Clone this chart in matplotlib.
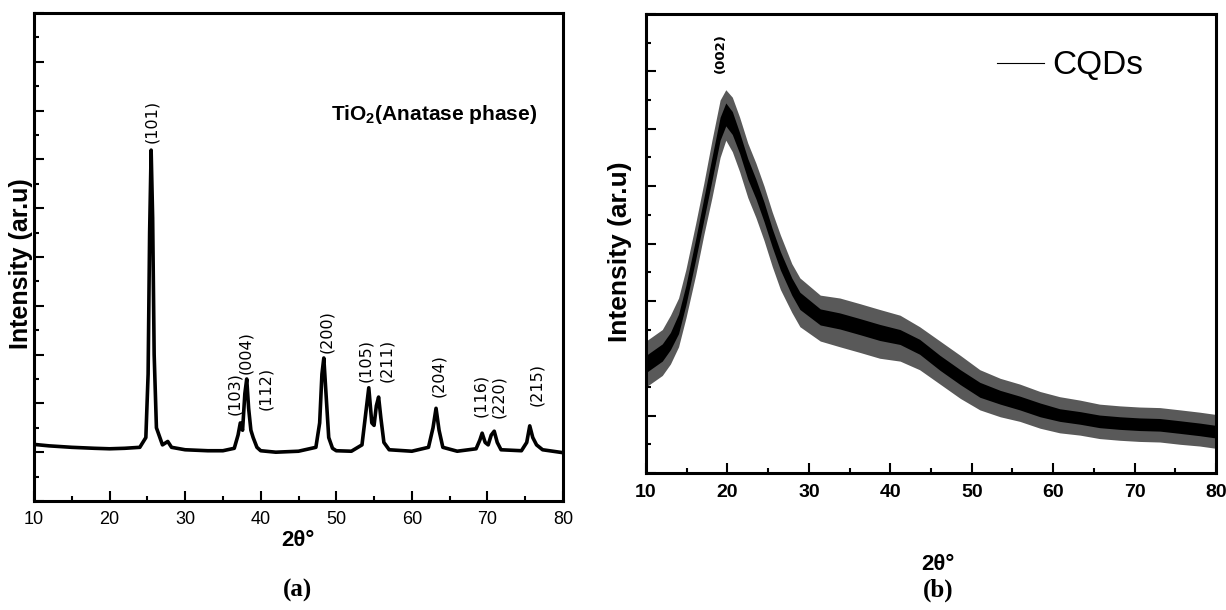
import matplotlib
matplotlib.use("Agg")
import matplotlib.pyplot as plt
from matplotlib.ticker import MultipleLocator, NullFormatter

# (a) TiO2 anatase XRD pattern
tio2_x = [10, 12, 15, 18, 20, 22, 24, 24.8, 25.1, 25.3, 25.5, 25.7, 25.9, 26.2, 27, 27.7, 28.2,
          30, 33, 35, 36.5, 37.0, 37.3, 37.6, 37.9, 38.15, 38.4, 38.7, 39.0, 39.5, 40, 42, 45,
          47.3, 47.8, 48.1, 48.35, 48.6, 49.0, 49.5, 50, 52, 53.4, 53.9, 54.3, 54.7, 55.0, 55.3,
          55.6, 55.9, 56.3, 57, 60, 62.2, 62.8, 63.2, 63.6, 64.1, 66, 68.5, 69.0, 69.3, 69.7,
          70.1, 70.5, 70.9, 71.3, 71.8, 74.5, 75.2, 75.6, 76.0, 76.5, 77.3, 80]
tio2_y = [1.16, 1.13, 1.1, 1.08, 1.07, 1.08, 1.1, 1.3, 2.6, 5.5, 7.19, 5.8, 3.0, 1.5, 1.15, 1.22, 1.1,
          1.05, 1.03, 1.03, 1.08, 1.35, 1.6, 1.45, 2.2, 2.5, 1.9, 1.45, 1.3, 1.1, 1.03, 1.0, 1.02,
          1.1, 1.6, 2.6, 2.93, 2.3, 1.3, 1.08, 1.03, 1.02, 1.15, 1.8, 2.32, 1.6, 1.55, 1.95,
          2.13, 1.7, 1.2, 1.05, 1.02, 1.1, 1.5, 1.9, 1.45, 1.1, 1.02, 1.07, 1.25, 1.39, 1.2,
          1.15, 1.35, 1.43, 1.2, 1.05, 1.03, 1.2, 1.54, 1.3, 1.15, 1.05, 0.99]
hkl_a = ["(101)", "(103)", "(004)", "(112)", "(200)", "(105)", "(211)", "(204)", "(116)", "(220)", "(215)"]
hkl_a_x = [25.6, 36.5, 38.0, 40.6, 48.7, 53.9, 56.6, 63.5, 69.1, 71.5, 76.5]
hkl_a_y = [7.34, 1.76, 2.6, 1.86, 3.03, 2.44, 2.44, 2.13, 1.72, 1.70, 1.95]

# (b) CQDs broad hump: centre of the noisy trace, its dense core and spike extent
cqd_x = [10, 11, 12, 13, 14, 14.9, 16.1, 17.1, 18.1, 19.1, 19.8, 20.6, 21.5, 22.5, 23.5, 24.5,
         25.5, 26.5, 27.9, 28.9, 31.4, 33.8, 36.3, 38.7, 41.2, 43.6, 46.1, 48.6, 51.0, 53.5,
         55.9, 58.4, 60.8, 63.3, 65.7, 68.2, 70.6, 73.1, 75.6, 78, 80]
cqd_mid = [1.9, 2.0, 2.1, 2.3, 2.6, 3.1, 3.9, 4.6, 5.3, 6.0, 6.25, 6.1, 5.75, 5.3, 4.95, 4.55,
           4.1, 3.7, 3.25, 3.0, 2.72, 2.65, 2.55, 2.45, 2.37, 2.2, 1.92, 1.67, 1.45, 1.32,
           1.22, 1.1, 1.01, 0.96, 0.9, 0.87, 0.85, 0.84, 0.8, 0.76, 0.72]
cqd_core_hi = [2.05, 2.15, 2.25, 2.45, 2.77, 3.27, 4.08, 4.79, 5.5, 6.2, 6.45, 6.3, 5.93, 5.48,
               5.12, 4.72, 4.26, 3.86, 3.4, 3.15, 2.86, 2.79, 2.69, 2.59, 2.5, 2.33, 2.05, 1.8,
               1.58, 1.44, 1.34, 1.22, 1.12, 1.07, 1.01, 0.98, 0.96, 0.95, 0.91, 0.87, 0.83]
cqd_core_lo = [1.75, 1.85, 1.95, 2.15, 2.43, 2.93, 3.72, 4.41, 5.1, 5.8, 6.05, 5.9, 5.57, 5.12,
               4.78, 4.38, 3.94, 3.54, 3.1, 2.85, 2.58, 2.51, 2.41, 2.31, 2.24, 2.07, 1.79, 1.54,
               1.32, 1.2, 1.1, 0.98, 0.9, 0.85, 0.79, 0.76, 0.74, 0.73, 0.69, 0.65, 0.61]
cqd_spike_hi = [2.3, 2.4, 2.5, 2.75, 3.05, 3.55, 4.35, 5.05, 5.8, 6.5, 6.68, 6.55, 6.2, 5.75, 5.4,
                5.0, 4.55, 4.15, 3.65, 3.4, 3.1, 3.05, 2.95, 2.85, 2.75, 2.55, 2.3, 2.05, 1.8,
                1.65, 1.55, 1.42, 1.33, 1.27, 1.2, 1.17, 1.15, 1.14, 1.1, 1.06, 1.02]
cqd_spike_lo = [1.5, 1.6, 1.7, 1.9, 2.2, 2.7, 3.45, 4.15, 4.8, 5.5, 5.8, 5.6, 5.25, 4.8, 4.45,
                4.05, 3.6, 3.2, 2.8, 2.55, 2.3, 2.2, 2.1, 2.0, 1.95, 1.8, 1.55, 1.3, 1.1, 0.98,
                0.9, 0.78, 0.7, 0.66, 0.6, 0.57, 0.55, 0.54, 0.5, 0.47, 0.43]

W, H = 1226, 610
plt.rcParams["font.family"] = ["Liberation Sans", "DejaVu Sans"]

fig = plt.figure(figsize=(W / 100, H / 100), dpi=100)


def box(l, t, r, b):
    return [l / W, 1 - b / H, (r - l) / W, (b - t) / H]


def style_axes(ax, ymax):
    ax.set_xlim(10, 80)
    ax.set_ylim(0, ymax)
    ax.xaxis.set_major_locator(MultipleLocator(10))
    ax.xaxis.set_minor_locator(MultipleLocator(5))
    ax.yaxis.set_major_locator(MultipleLocator(1))
    ax.yaxis.set_minor_locator(MultipleLocator(0.5))
    ax.yaxis.set_major_formatter(NullFormatter())
    for s in ax.spines.values():
        s.set_linewidth(2.2)
    ax.tick_params(which="both", direction="in", top=False, right=False, width=1.5)
    ax.tick_params(which="major", length=7)
    ax.tick_params(which="minor", length=3.5)


# ---- panel (a)
ax1 = fig.add_axes(box(34, 13, 563, 501))
style_axes(ax1, 10)
ax1.plot(tio2_x, tio2_y, color="black", lw=2.6)
for lab, x, y in zip(hkl_a, hkl_a_x, hkl_a_y):
    ax1.text(x, y, lab, rotation=90, ha="center", va="bottom", fontsize=11.5,
             family="DejaVu Sans")
ax1.text(0.951, 0.78, "TiO$_\\mathregular{2}$(Anatase phase)", transform=ax1.transAxes,
         ha="right", va="baseline", fontsize=15, fontweight="bold")
ax1.tick_params(axis="x", labelsize=13, pad=7)

fig.text(298 / W, 1 - 540 / H, "2θ°", ha="center", va="center", fontsize=16,
         fontweight="bold")
fig.text(21 / W, 1 - 264 / H, "Intensity (ar.u)", rotation=90, ha="center", va="center",
         fontsize=18, fontweight="bold")
fig.text(298 / W, 1 - 590 / H, "(a)", ha="center", va="center", fontsize=18,
         fontweight="bold", family="Liberation Serif")

# ---- panel (b)
ax2 = fig.add_axes(box(646, 14, 1216, 473))
style_axes(ax2, 8)
ax2.fill_between(cqd_x, cqd_spike_lo, cqd_spike_hi, color="0.35", lw=0)
ax2.fill_between(cqd_x, cqd_core_lo, cqd_core_hi, color="black", lw=0)
ax2.plot(cqd_x, cqd_mid, color="black", lw=0.8, label="CQDs")
ax2.text(19.1, 6.97, "(002)", rotation=90, ha="center", va="bottom", fontsize=9.5,
         fontweight="bold", family="DejaVu Sans")
ax2.legend(loc="upper right", bbox_to_anchor=(0.896, 0.95), frameon=False, fontsize=24,
           handlelength=1.4, handletextpad=0.25, borderaxespad=0)
ax2.tick_params(axis="x", labelsize=14, pad=8)
for t in ax2.get_xticklabels():
    t.set_fontweight("bold")

fig.text(938 / W, 1 - 565 / H, "2θ°", ha="center", va="center", fontsize=16,
         fontweight="bold")
fig.text(620 / W, 1 - 252 / H, "Intensity (ar.u)", rotation=90, ha="center", va="center",
         fontsize=19, fontweight="bold")
fig.text(938 / W, 1 - 590 / H, "(b)", ha="center", va="center", fontsize=18,
         fontweight="bold", family="Liberation Serif")

fig.savefig("out.png", dpi=100)
